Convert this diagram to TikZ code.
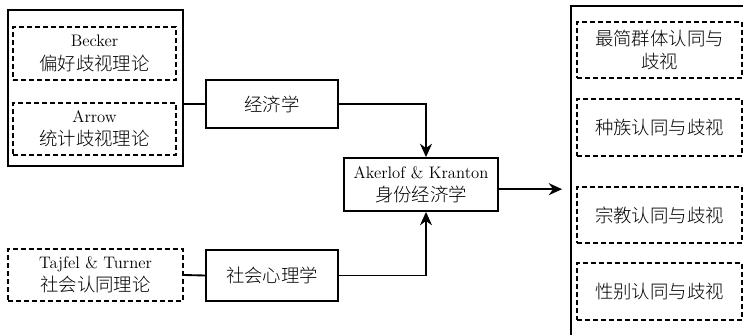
\documentclass[tikz,border=0pt]{standalone}
\usepackage{fontspec}
\newfontfamily\cjk{Noto Sans CJK SC}[UprightFont={* Light}]
\usetikzlibrary{arrows.meta}
\begin{document}
\begin{tikzpicture}[x=0.75pt,y=-0.75pt,
  txt/.style={inner sep=0pt,align=center,font=\fontsize{12.5}{17.5}\selectfont},
  solidbox/.style={txt,draw,line width=1.4pt},
  dashbox/.style={txt,draw,line width=1.2pt,dash pattern=on 3.6pt off 2.4pt},
  cj/.style={font=\fontsize{13.8}{17}\selectfont\cjk},
  conn/.style={line width=1.4pt},
  arr/.style={line width=1.4pt,-{Stealth[length=10pt,width=9pt]}}]
\useasboundingbox (0,0) rectangle (743,335);
\begin{scope}
\clip (0,0) rectangle (743,335);
% left group
\node[solidbox,minimum width=175*0.75pt,minimum height=156*0.75pt] (left) at (95.5,88) {};
\node[dashbox,minimum width=163*0.75pt,minimum height=53*0.75pt] (becker) at (94.5,53.5) {Becker\\{\fontsize{13.8}{17.5}\selectfont\cjk 偏好歧视理论}};
\node[dashbox,minimum width=163*0.75pt,minimum height=52*0.75pt] (arrow) at (94.5,129) {Arrow\\{\fontsize{13.8}{17.5}\selectfont\cjk 统计歧视理论}};
\node[solidbox,cj,minimum width=132*0.75pt,minimum height=48*0.75pt] (econ) at (272,104) {经济学};
\node[solidbox,minimum width=154*0.75pt,minimum height=53*0.75pt] (ak) at (421,184.5) {Akerlof \& Kranton\\{\fontsize{13.8}{17.5}\selectfont\cjk 身份经济学}};
\node[dashbox,minimum width=175*0.75pt,minimum height=52*0.75pt] (taj) at (95.5,275) {Tajfel \& Turner\\{\fontsize{13.8}{17.5}\selectfont\cjk 社会认同理论}};
\node[solidbox,cj,minimum width=132*0.75pt,minimum height=51*0.75pt] (soc) at (272,275.5) {社会心理学};
% right group
\node[solidbox,minimum width=189*0.75pt,minimum height=339*0.75pt] (right) at (665.5,175.5) {};
\node[dashbox,cj,minimum width=165*0.75pt,minimum height=56*0.75pt] (r1) at (659.5,50) {最简群体认同与\\歧视};
\node[dashbox,cj,minimum width=165*0.75pt,minimum height=57*0.75pt] (r2) at (659.5,127.5) {种族认同与歧视};
\node[dashbox,cj,minimum width=165*0.75pt,minimum height=56*0.75pt] (r3) at (659.5,215) {宗教认同与歧视};
\node[dashbox,cj,minimum width=165*0.75pt,minimum height=57*0.75pt] (r4) at (659.5,291.5) {性别认同与歧视};
% connectors
\draw[conn] (left.east |- econ.west) -- (econ.west);
\draw[arr] (econ.east) -| ([xshift=3.75pt]ak.north);
\draw[conn] (taj.east) -- (soc.west);
\draw[arr] (soc.east) -| ([xshift=3.75pt]ak.south);
\draw[arr,shorten >=6pt] ([yshift=-3.5pt]ak.east) -- ([yshift=-3.5pt]ak.east -| right.west);
\end{scope}
\end{tikzpicture}
\end{document}
